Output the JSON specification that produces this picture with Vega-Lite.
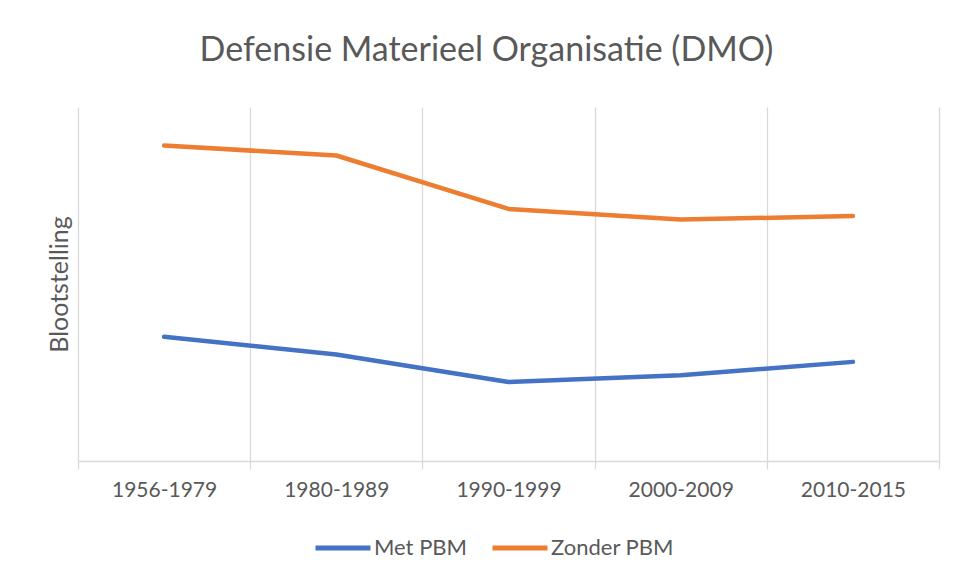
{
  "$schema": "https://vega.github.io/schema/vega-lite/v6.json",
  "autosize": {"type": "none"},
  "width": 861,
  "height": 354,
  "padding": {"left": 78, "top": 107, "right": 18, "bottom": 114},
  "background": "white",
  "title": {
    "text": "Defensie Materieel Organisatie (DMO)",
    "anchor": "middle",
    "dx": -22,
    "offset": 39,
    "fontSize": 34,
    "font": "Lato",
    "fontWeight": "normal",
    "color": "#595959"
  },
  "data": {
    "values": [
      {"periode": "1956-1979", "reeks": "Met PBM", "waarde": 35.1},
      {"periode": "1980-1989", "reeks": "Met PBM", "waarde": 30.1},
      {"periode": "1990-1999", "reeks": "Met PBM", "waarde": 22.3},
      {"periode": "2000-2009", "reeks": "Met PBM", "waarde": 24.2},
      {"periode": "2010-2015", "reeks": "Met PBM", "waarde": 28.0},
      {"periode": "1956-1979", "reeks": "Zonder PBM", "waarde": 89.1},
      {"periode": "1980-1989", "reeks": "Zonder PBM", "waarde": 86.3},
      {"periode": "1990-1999", "reeks": "Zonder PBM", "waarde": 71.2},
      {"periode": "2000-2009", "reeks": "Zonder PBM", "waarde": 68.2},
      {"periode": "2010-2015", "reeks": "Zonder PBM", "waarde": 69.2}
    ]
  },
  "mark": {"type": "line", "strokeWidth": 4.5, "strokeCap": "round", "strokeJoin": "round"},
  "encoding": {
    "x": {
      "field": "periode",
      "type": "nominal",
      "sort": null,
      "scale": {"type": "band", "paddingInner": 0, "paddingOuter": 0},
      "axis": {
        "title": null,
        "labelAngle": 0,
        "tickBand": "extent",
        "grid": true,
        "gridColor": "#d9d9d9",
        "gridWidth": 1.3,
        "domainColor": "#d9d9d9",
        "domainWidth": 1.3,
        "tickColor": "#d9d9d9",
        "tickWidth": 1.3,
        "tickSize": 8,
        "labelFont": "Lato",
        "labelFontSize": 21,
        "labelColor": "#595959",
        "labelPadding": 10
      }
    },
    "y": {
      "field": "waarde",
      "type": "quantitative",
      "scale": {"domain": [0, 100]},
      "axis": {
        "title": "Blootstelling",
        "titleFont": "Lato",
        "titleFontSize": 25,
        "titleFontWeight": "normal",
        "titleColor": "#595959",
        "titlePadding": 6,
        "labels": false,
        "ticks": false,
        "domain": false,
        "grid": false
      }
    },
    "color": {
      "field": "reeks",
      "type": "nominal",
      "scale": {"domain": ["Met PBM", "Zonder PBM"], "range": ["#4472C4", "#ED7D31"]},
      "legend": {
        "title": null,
        "orient": "none",
        "direction": "horizontal",
        "legendX": 235,
        "legendY": 411,
        "symbolType": "stroke",
        "symbolSize": 3025,
        "symbolStrokeWidth": 5,
        "labelFont": "Lato",
        "labelFontSize": 22,
        "labelColor": "#595959",
        "labelOffset": 1,
        "columnPadding": 14
      }
    }
  },
  "config": {"view": {"stroke": null}}
}
